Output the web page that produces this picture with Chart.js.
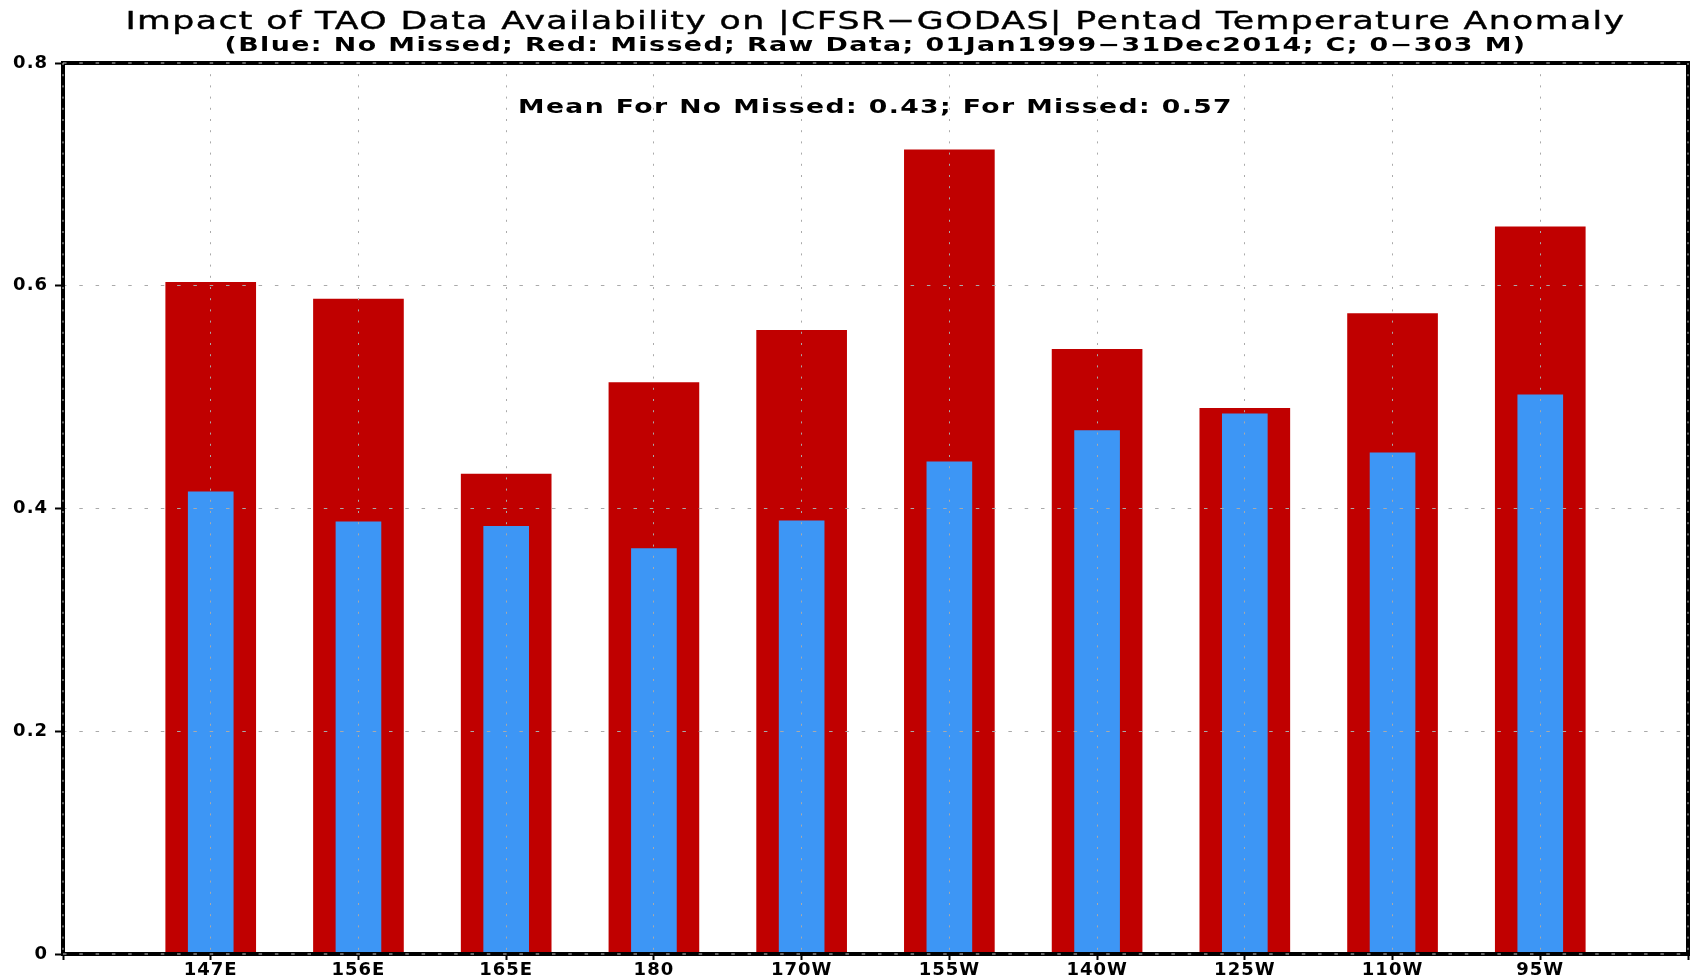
<!DOCTYPE html>
<html lang="en">
<head>
    <meta charset="UTF-8">
    <title>TAO Data Availability</title>
    <script src="https://cdn.jsdelivr.net/npm/chart.js@4.4.0/dist/chart.umd.min.js"></script>
    <style>
        body { margin: 0; background: #fff; }
        canvas { display: block; }
    </style>
</head>
<body>

<canvas id="chart" width="1692" height="978"></canvas>

<script>

    // longitudes, padded with an empty slot at each end like the original plot
    const sites = ['', '147E', '156E', '165E', '180', '170W', '155W', '140W', '125W', '110W', '95W', ''];
    const noMissed = [null, 0.415, 0.388, 0.384, 0.364, 0.389, 0.442, 0.470, 0.485, 0.450, 0.502, null];
    const missed   = [null, 0.603, 0.588, 0.431, 0.513, 0.560, 0.722, 0.543, 0.490, 0.575, 0.653, null];
    const yTicks = [0, 0.2, 0.4, 0.6, 0.8];

    const titleText = 'Impact of TAO Data Availability on |CFSR\u2212GODAS| Pentad Temperature Anomaly';
    const subText = '(Blue: No Missed; Red: Missed; Raw Data; 01Jan1999\u221231Dec2014; C; 0\u2212303 M)';
    const meanText = 'Mean For No Missed: 0.43; For Missed: 0.57';

    const FONT = '"DejaVu Sans", sans-serif';

    // draw text centred on x, stretched sideways to a given width
    function wideText(ctx, txt, font, x, y, width, thick) {
        ctx.save();
        ctx.font = font;
        ctx.letterSpacing = '1px';
        const w0 = ctx.measureText(txt).width;
        ctx.translate(x, y);
        ctx.scale(width / w0, 1);
        ctx.textAlign = 'center';
        ctx.textBaseline = 'middle';
        ctx.fillText(txt, 0, 0);
        if (thick) {
            ctx.strokeStyle = ctx.fillStyle;
            ctx.lineWidth = thick;
            ctx.strokeText(txt, 0, 0);
        }
        ctx.restore();
    }

    const frame = {
        id: 'frame',
        beforeDraw(chart) {
            chart.ctx.letterSpacing = '1px';
        },
        afterDraw(chart) {
            const ctx = chart.ctx;
            const a = chart.chartArea;
            ctx.save();
            ctx.strokeStyle = '#000';
            ctx.lineWidth = 4;
            ctx.strokeRect(a.left, a.top, a.right - a.left, a.bottom - a.top);

            ctx.strokeStyle = '#c8c8c8';
            ctx.lineWidth = 1;
            ctx.setLineDash([3.5, 12.8]);
            ctx.beginPath();
            ctx.moveTo(a.left, a.top); ctx.lineTo(a.right, a.top);
            ctx.moveTo(a.left, a.bottom); ctx.lineTo(a.right, a.bottom);
            ctx.stroke();
            ctx.setLineDash([2, 9.2]);
            ctx.beginPath();
            ctx.moveTo(a.left, a.top); ctx.lineTo(a.left, a.bottom);
            ctx.moveTo(a.right, a.top); ctx.lineTo(a.right, a.bottom);
            ctx.stroke();
            ctx.setLineDash([]);

            const cx = (a.left + a.right) / 2;
            ctx.fillStyle = '#000';
            wideText(ctx, titleText, '25px ' + FONT, cx, 22, 1500, 0.4);
            wideText(ctx, subText, 'bold 19px ' + FONT, cx, 46, 1302, 0);
            wideText(ctx, meanText, 'bold 19px ' + FONT, cx, a.top + 45, 715, 0);
            ctx.restore();
        }
    };

    const ctx = document.getElementById('chart').getContext('2d');
    const myChart = new Chart(ctx, {
        type: 'bar',
        data: {
            labels: sites,
            datasets: [{
                label: 'No Missed',
                data: noMissed,
                backgroundColor: '#3d96f5',
                barThickness: 45,
                order: 1
            }, {
                label: 'Missed',
                data: missed,
                backgroundColor: '#c00000',
                barThickness: 90,
                order: 2
            }]
        },
        options: {
            responsive: false,
            animation: false,
            datasets: { bar: { grouped: false } },
            layout: { padding: { top: 63, right: 4, left: 0, bottom: 0 } },
            plugins: {
                legend: { display: false },
                title: { display: false },
                tooltip: { enabled: false }
            },
            scales: {
                x: {
                    offset: false,
                    afterFit: s => { s.height = 24; },
                    grid: {
                        offset: false,
                        z: 1,
                        color: '#aaaaaa',
                        lineWidth: 1,
                        tickLength: 6,
                        tickColor: '#000',
                        tickWidth: 2
                    },
                    border: { display: false, dash: [2, 9.2] },
                    ticks: {
                        color: '#000',
                        padding: 0,
                        maxRotation: 0,
                        autoSkip: false,
                        font: { family: FONT, size: 18, weight: 'bold' }
                    }
                },
                y: {
                    min: 0,
                    max: 0.8,
                    afterFit: s => { s.width = 63; },
                    afterBuildTicks: s => { s.ticks = yTicks.map(v => ({ value: v })); },
                    grid: {
                        z: 1,
                        color: '#aaaaaa',
                        lineWidth: 1,
                        tickLength: 8,
                        tickColor: '#000',
                        tickWidth: 2
                    },
                    border: { display: false, dash: [3.5, 12.8] },
                    ticks: {
                        color: '#000',
                        padding: 7,
                        font: { family: FONT, size: 18, weight: 'bold' },
                        callback: v => String(+v.toFixed(1))
                    }
                }
            }
        },
        plugins: [frame]
    });

</script>

</body>
</html>
